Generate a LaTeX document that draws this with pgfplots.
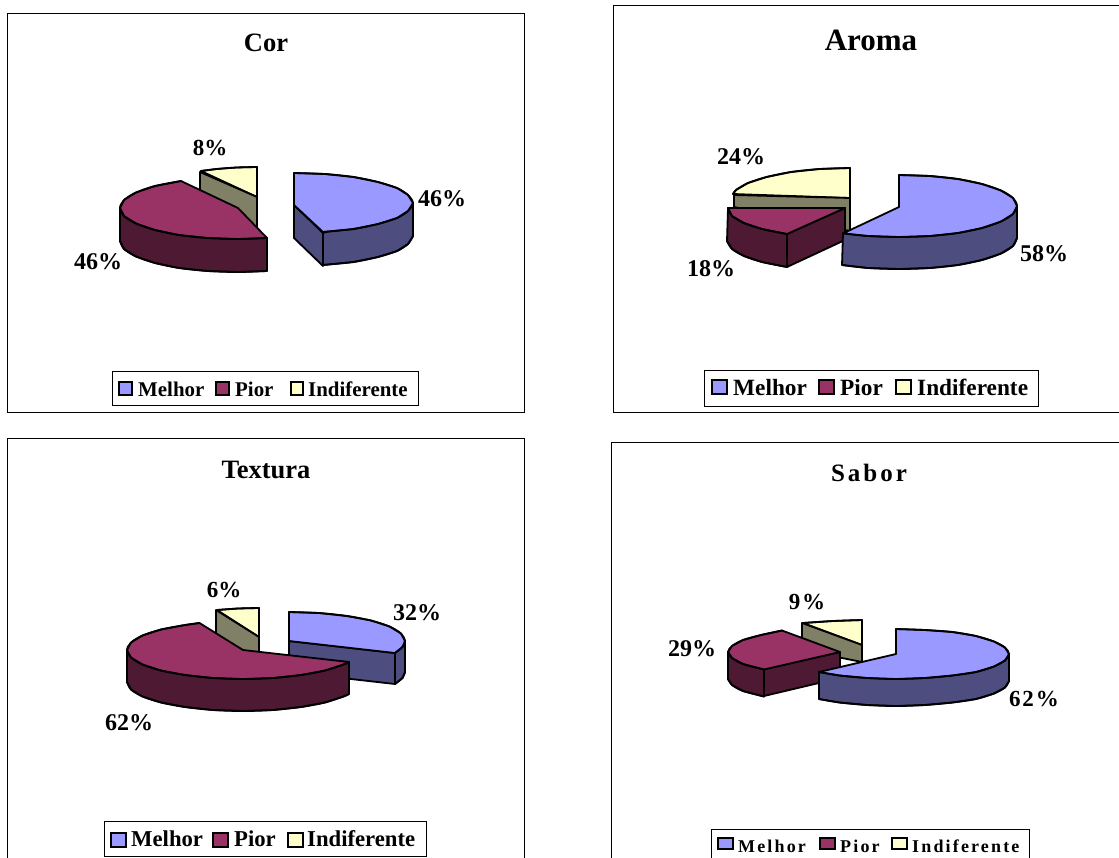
\documentclass[border=0pt]{standalone}
\usepackage{pgfplots}
\pgfplotsset{compat=1.18}
\usepackage{fontspec}
\setmainfont{Liberation Serif}
\definecolor{cB}{HTML}{9999FF}\definecolor{cBs}{HTML}{4D4D80}
\definecolor{cR}{HTML}{993366}\definecolor{cRs}{HTML}{4D1933}
\definecolor{cY}{HTML}{FFFFCC}\definecolor{cO}{HTML}{808066}
\newcommand{\fs}[1]{\bfseries\fontsize{#1}{#1}\selectfont}
\newcommand{\fsp}[2]{\addfontfeature{LetterSpace=#2}\bfseries\fontsize{#1}{#1}\selectfont}
% polygon: fill colour, curved stretch, straight remainder
\newcommand{\F}[3]{\addplot[fill=#1,draw=black,line width=1.8pt,line join=round] coordinates {#2 #3} --cycle;
\addplot[draw=black,line width=1.8pt,smooth,line cap=round] coordinates {#2};}
\newcommand{\Pg}[2]{\addplot[fill=#1,draw=black,line width=1.8pt,line join=round] coordinates {#2} --cycle;}
\newcommand{\K}[5]{\addplot[fill=#1,draw=black,line width=1.5pt] coordinates {(#2,#3)(#4,#3)(#4,#5)(#2,#5)} --cycle;}
\newcommand{\B}[4]{\addplot[fill=white,draw=black,line width=0.8pt] coordinates {(#1,#2)(#3,#2)(#3,#4)(#1,#4)} --cycle;}
\newcommand{\T}[4]{\node[anchor=#1,inner sep=0pt] at (axis cs:#2,#3) {#4};}
\begin{document}
\begin{tikzpicture}
\useasboundingbox (0,0) rectangle (1119pt,857pt);
\begin{axis}[at={(0,0)},anchor=south west,scale only axis,width=1119pt,height=857pt,xmin=0,xmax=1119,ymin=0,ymax=857,y dir=reverse,hide axis,clip=true]
% frames
\B{7.5}{13.5}{524.5}{412.5}
\B{613.5}{5.5}{1130}{412.5}
\B{7.5}{438.5}{524.5}{870}
\B{611.5}{442.5}{1130}{870}
% COR
\F{cY}{(257,167)(236.5,167.5)(216.6,169)(201,171)}{(257,197)}
\Pg{cO}{(200,172)(257,197)(257,230)(200,203)}
\F{cRs}{(120,241)(124,249)(136,256.5)(155,263)(179,268)(207.5,271)(238,272)(267,271)}{(267,238)(120,208)}
\F{cR}{(181,181)(155,186)(136,192.5)(124,200)(120,208)(124,216)(136,223.5)(155,230)(179,235)(207.5,238)(238,239)(267,238)}{(238,208)}
\Pg{cBs}{(294,205)(323,233)(323,266)(294,238)}
\F{cBs}{(323,265)(353.5,262)(378,257)(397,251)(408,244)(413,236)}{(413,203)(323,233)}
\F{cB}{(294,173)(325,174)(353.5,177)(378,182)(397,188)(408,195)(413,203)(408,211)(397,218)(378,224)(353.5,229)(323,232)}{(294,205)}
% AROMA
\F{cY}{(733,194)(736,190)(748,183)(766.6,177)(791,172)(819.5,169)(850,168)}{(850,198)}
\Pg{cO}{(734,195)(850,198)(850,231)(734,207)}
\Pg{cRs}{(787,234)(845,208)(845,240)(787,267)}
\F{cRs}{(727,241)(732,249)(744,256)(762,262)(787,267)}{(787,234)(728,208)}
\F{cR}{(728,208)(732,216)(744,223)(762,229)(787,234)}{(845,208)}
\F{cBs}{(842,265)(868,268)(899,269)(930,268)(958,265)(982,260)(1001,253.5)(1013,246)(1017,238)}{(1017,206)(843,233)}
\F{cB}{(899,175)(930,176)(958,179)(982,184)(1001,190.5)(1013,198)(1017,206)(1013,214)(1001,221.5)(982,228)(958,233)(930,236)(899,237)(868,236)(843,233.4)}{(899,207)}
% TEXTURA
\F{cY}{(259,608)(238,608.5)(217,610)}{(259,637)}
\Pg{cO}{(216,610)(259,637)(259,665)(216,640)}
\Pg{cBs}{(289,641)(395,653)(395,684)(289,672)}
\F{cBs}{(395,684)(402.5,678)(405,672)}{(405,641)(395,653)}
\F{cB}{(289,612)(319,613)(347,616)(371,620.5)(389.5,626.5)(401,633.5)(405,641)(402.5,647)(395,653)}{(289,641)}
\F{cRs}{(127,682)(131,689.5)(142.5,696.5)(161,702.5)(185,707)(213,710)(243,711)(273,710)(301,707)(325,702.5)(343.5,696.5)(349,694)}{(349,662)(127,650)}
\F{cR}{(199.5,623)(185,625)(161,629.5)(142.5,635.5)(131,642.5)(127,650)(131,657.5)(142.5,664.5)(161,670.5)(185,675)(213,678)(243,679)(273,678)(301,675)(325,670.5)(343.5,664.5)(349,662)}{(243,650)}
% SABOR
\F{cY}{(862,620)(833,621)(803,623)}{(862,645)}
\Pg{cO}{(802,623)(862,645)(862,662)(802,650)}
\Pg{cRs}{(764,669)(840,652)(840,678)(764,696)}
\F{cRs}{(728,679)(732,685)(743,691)(764,696.5)}{(764,669)(728,652)}
\F{cR}{(782,630.5)(761,635)(743,640)(732,646)(728,652)(732,658)(743,664)(764,669.5)}{(840,652)}
\F{cBs}{(819,699)(839.5,702.5)(867,705)(896,706)(925,705)(952.5,702.5)(976,699)(994,693.5)(1005,687.5)(1009,681)}{(1009,654)(819,672)}
\F{cB}{(896,629)(925,630)(952.5,632)(976,636)(994,641.5)(1005,647.5)(1009,654)(1005,660.5)(994,666.5)(976,672)(952.5,675.5)(925,678)(896,679)(867,678)(839.5,675.5)(819,672)}{(896,654)}
% legends
\B{112.5}{371.5}{418.5}{405.5}
\K{cB}{119}{382}{132}{395}\K{cR}{216}{382}{229}{395}\K{cY}{291}{382}{303}{395}
\T{base west}{138}{396}{\fs{20.9}Melhor}\T{base west}{235}{396}{\fs{20.9}Pior}\T{base west}{308}{396}{\fs{20.9}Indiferente}
\B{704.5}{370.5}{1038.5}{406.5}
\K{cB}{712}{380}{727}{394}\K{cR}{819}{380}{834}{394}\K{cY}{896}{380}{911}{394}
\T{base west}{733}{395}{\fs{23.3}Melhor}\T{base west}{840}{395}{\fs{23.3}Pior}\T{base west}{917}{395}{\fs{23.3}Indiferente}
\B{104.5}{821.5}{426.5}{856}
\K{cB}{111}{833}{126}{847}\K{cR}{213}{833}{228}{847}\K{cY}{288}{833}{303}{847}
\T{base west}{131}{846}{\fs{22.7}Melhor}\T{base west}{234}{846}{\fs{22.7}Pior}\T{base west}{307}{846}{\fs{22.7}Indiferente}
\B{711.5}{829.5}{1029.5}{870}
\K{cB}{718}{838}{733}{849}\K{cR}{820}{838}{835}{849}\K{cY}{892}{838}{907}{849}
\T{base west}{738}{852}{\fsp{18}{12}Melhor}\T{base west}{840}{852}{\fsp{18}{12}Pior}\T{base west}{912}{852}{\fsp{18}{12}Indiferente}
% titles
\T{base}{266}{51}{\fs{26.5}Cor}
\T{base}{871}{50}{\fs{31}Aroma}
\T{base}{266}{478}{\fs{26.5}Textura}
\T{base}{869}{481}{\fsp{25}{12}Sabor}
% value labels
\T{base}{442}{206}{\fs{24}46\%}\T{base}{210}{155}{\fs{23}8\%}\T{base}{98}{269}{\fs{24}46\%}
\T{base}{741}{164}{\fs{24}24\%}\T{base}{711}{276}{\fs{24}18\%}\T{base}{1044}{261}{\fs{24}58\%}
\T{base}{224}{597}{\fs{23}6\%}\T{base}{417}{620}{\fs{24}32\%}\T{base}{129}{730}{\fs{24}62\%}
\T{base}{807}{609}{\fsp{23}{8}9\%}\T{base}{692}{656}{\fs{24}29\%}\T{base}{1034}{706}{\fsp{23}{8}62\%}
\end{axis}
\end{tikzpicture}
\end{document}
